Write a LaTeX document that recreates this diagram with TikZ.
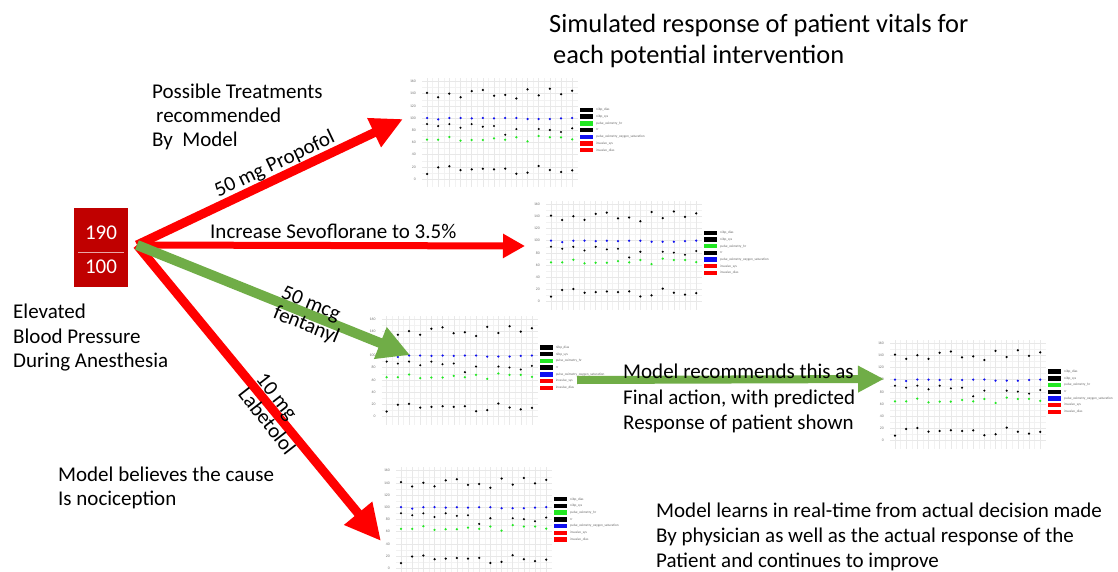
\documentclass[tikz,border=0pt]{standalone}
\usepackage{fontspec}
\setmainfont{Carlito}
\usetikzlibrary{arrows.meta}
\definecolor{boxred}{HTML}{C00000}
\definecolor{arrred}{HTML}{FF0000}
\definecolor{arrgreen}{HTML}{70AD47}
\definecolor{sergreen}{HTML}{22E822}
\definecolor{serblue}{HTML}{1010F0}
\tikzset{
  body/.style={font=\fontsize{21}{25}\selectfont, inner sep=0pt, anchor=base west},
  headline/.style={font=\fontsize{26.4}{31}\selectfont, inner sep=0pt, anchor=base west},
  gridmaj/.style={draw=black!9, line width=0.45pt},
  gridmin/.style={draw=black!5, line width=0.3pt},
  axislbl/.style={font=\fontsize{3.8}{4}\selectfont, text=black!55, inner sep=0pt, anchor=east},
  legendlbl/.style={font=\fontsize{3.4}{4}\selectfont, text=black!60, inner sep=0pt, anchor=west},
  redarrow/.style={draw=arrred, line width=#1},
  greenarrow/.style={draw=arrgreen, line width=#1},
  vitals/.pic={
    % panel grid: minor and major lines
    \foreach \v in {10,30,...,150}
      \draw[gridmin] (-5,{-0.61*\v}) -- (151,{-0.61*\v});
    \foreach \i in {0,...,12}
      \draw[gridmin] ({\i*11.17+5.585},8) -- ({\i*11.17+5.585},-101);
    \foreach \v in {0,20,...,160}{
      \draw[gridmaj] (-5,{-0.61*\v}) -- (151,{-0.61*\v});
      \node[axislbl] at (-11,{-0.61*\v}) {\v};
    }
    \foreach \i in {0,...,13}
      \draw[gridmaj] ({\i*11.17},8) -- ({\i*11.17},-101);
    % measured series
    \foreach \v [count=\i from 0] in {141,134,140,134,144,146,136.5,138,132,147,137,148,139,144.7}
      \fill[black] ({\i*11.17},{-0.61*\v}) circle (1.25);
    \foreach \v [count=\i from 0] in {100,97.7,100,100,99.4,100,99.4,100,100,98.3,98.3,98.3,99.4,100}
      \fill[serblue] ({\i*11.17},{-0.61*\v}) circle (1.25);
    \foreach \i/\v in {0/90,1/86.8,2/90,3/84,4/90,5/85.7,6/86.8,7/72.6,8/81.9,10/81.9,11/80.3,12/77,13/83}
      \fill[black] ({\i*11.17},{-0.61*\v}) circle (1.15);
    \foreach \v [count=\i from 0] in {64.4,64.4,68.8,62.8,63.9,63.9,66.6,64.4,68.3,61.7,70.5,68.3,68.3,65}
      \fill[sergreen] ({\i*11.17},{-0.61*\v}) circle (1.25);
    \foreach \v [count=\i from 0] in {8.2,19.1,20.8,14.7,15.8,16.9,15.8,16.9,8.7,10.4,21.3,14.7,11.5,14.2}
      \fill[black] ({\i*11.17},{-0.61*\v}) circle (1.25);
    % legend
    \foreach \c/\t [count=\k from 0] in {black/nibp\_dias, black/nibp\_sys, sergreen/pulse\_oximetry\_hr, black/rr, serblue/pulse\_oximetry\_oxygen\_saturation, arrred/invasive\_sys, arrred/invasive\_dias}{
      \fill[\c] (153,{-69+6.7*\k-2.2}) rectangle ++(13,4.4);
      \node[legendlbl] at (169,{-69+6.7*\k}) {\t};
    }
  }
}
\begin{document}
\begin{tikzpicture}[x=1pt,y=-1pt]
\useasboundingbox[fill=white] (0,0) rectangle (1118,572);

% title
\node[headline] (title1) at (549,33) {Simulated response of patient vitals for};
\node[headline] (title2) at (553,64) {each potential intervention};

% simulated vitals charts
\pic at (427,179) {vitals};
\pic at (551,301.7) {vitals};
\pic at (386.7,416.5) {vitals};
\pic at (401,568.2) {vitals};
\pic at (895,440.6) {vitals};

% blood pressure reading
\node[fill=boxred, minimum width=54pt, minimum height=79pt, inner sep=0pt] (bp) at (101,247.5) {};
\node[font=\fontsize{21}{24}\selectfont, text=white, inner sep=0pt] (sys) at (101,233) {190};
\draw[white!65!boxred, line width=0.7pt] (78,252) -- (124,252);
\node[font=\fontsize{21}{24}\selectfont, text=white, inner sep=0pt] (dia) at (101,267) {100};

% connector end points
\coordinate (src) at (137,245);
\coordinate (tipA) at (403,119);
\coordinate (tipB) at (525,246);
\coordinate (tipC) at (410,355);
\coordinate (tipD) at (381,541);
\coordinate (finA) at (577,380);
\coordinate (finB) at (884,379);

% treatment arrows
\draw[redarrow=9pt, -{Triangle[width=30pt,length=32pt]}] (src) -- (tipA)
  node[pos=0.54, sloped, above, inner sep=0pt, font=\fontsize{21}{25}\selectfont, text=black] (lblA) {50 mg Propofol};
\draw[redarrow=7pt, -{Triangle[width=23pt,length=22pt]}] (src) -- (tipB);
\draw[redarrow=9pt, -{Triangle[width=34pt,length=36pt]}] (src) -- (tipD);
\draw[greenarrow=10pt, -{Triangle[width=32pt,length=32pt]}] (src) -- (tipC);
\draw[greenarrow=8pt, -{Triangle[width=25pt,length=26pt]}] (finA) -- (finB);

% arrow labels
\node[body] (lblB) at (210,238) {Increase Sevoflorane to 3.5\%};
\node[font=\fontsize{21}{21.5}\selectfont, align=left, rotate=-22, inner sep=0pt] (lblC) at (310,316) {50 mcg\\fentanyl};
\node[font=\fontsize{21}{23}\selectfont, align=left, rotate=-52, inner sep=0pt] (lblD) at (276,414) {10 mg\\Labetolol};

% explanatory texts
\node[body] (pt1) at (152,98.3) {Possible Treatments};
\node[body] (pt2) at (156,122.7) {recommended};
\node[body] (pt3) at (152,146.7) {By\ \ Model};

\node[body] (ev1) at (13,318) {Elevated};
\node[body] (ev2) at (13,343) {Blood Pressure};
\node[body] (ev3) at (13,367) {During Anesthesia};

\node[body] (mb1) at (58,481) {Model believes the cause};
\node[body] (mb2) at (58,505) {Is nociception};

\node[body] (mr1) at (623,378) {Model recommends this as};
\node[body] (mr2) at (623,404) {Final action, with predicted};
\node[body] (mr3) at (623,429) {Response of patient shown};

\node[body] (ml1) at (656,517) {Model learns in real-time from actual decision made};
\node[body] (ml2) at (656,542) {By physician as well as the actual response of the};
\node[body] (ml3) at (656,567) {Patient and continues to improve};
\end{tikzpicture}
\end{document}
